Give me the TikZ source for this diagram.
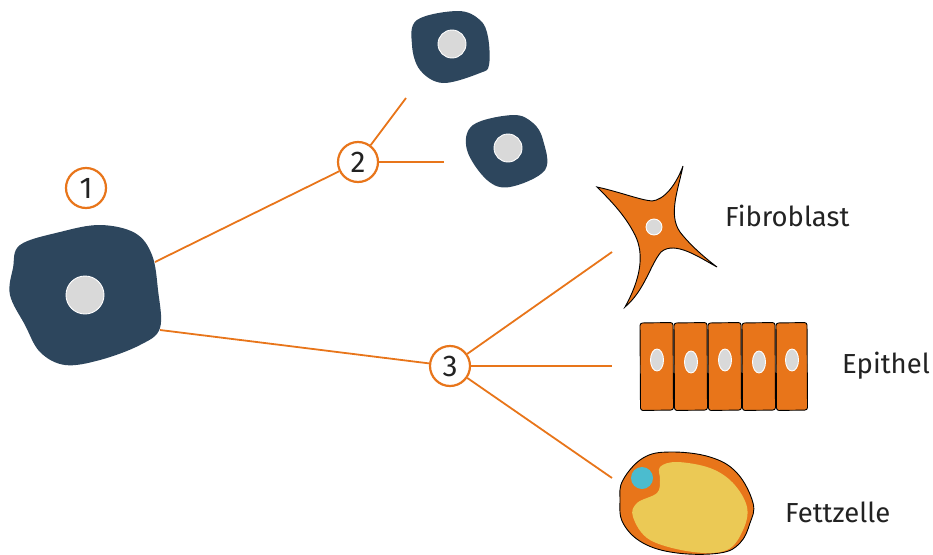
\documentclass[tikz,border=0pt]{standalone}
\usepackage{fontspec}
\setmainfont{Fira Sans}
\usetikzlibrary{calc}
\definecolor{navy}{HTML}{2D465D}
\definecolor{orng}{HTML}{E8751A}
\definecolor{nucgray}{HTML}{D9D9D9}
\definecolor{fatyel}{HTML}{EBC955}
\definecolor{cyanish}{HTML}{4BBCCF}
\definecolor{txt}{HTML}{222222}
\begin{document}
\begin{tikzpicture}[x=1pt,y=-1pt,
  link/.style={draw=orng,line width=1.8pt},
  stage/.style={circle,draw=orng,line width=2.2pt,fill=white,minimum size=40pt,inner sep=0pt,
    font=\fontsize{30}{30}\selectfont,text=txt},
  stemcell/.style={fill=navy},
  nucleus/.style={fill=nucgray,draw=white,line width=0.9pt},
  outline/.style={draw=black,line width=0.9pt,fill=orng},
  label/.style={font=\fontsize{27.5}{27.5}\selectfont,text=txt,anchor=west,inner sep=0pt}]
\useasboundingbox (0,0) rectangle (933,554);

% stem cell
\fill[stemcell] plot[smooth cycle,tension=0.6] coordinates {(20,245) (60,232) (100,225) (135,233) (152,255) (158,290) (160,328) (140,345) (100,360) (65,365) (40,352) (25,325) (10,295) (13,268)};
\node[nucleus,circle,minimum size=38pt,inner sep=0pt] (n1) at (85,295) {};

% daughter stem cells
\fill[stemcell] plot[smooth cycle,tension=0.6] coordinates {(417,20) (458,11) (480,20) (488,37) (489,65) (480,73) (443,83) (420,70) (412,45)};
\node[nucleus,circle,minimum size=28pt,inner sep=0pt] (n2a) at (452,44) {};
\fill[stemcell] plot[smooth cycle,tension=0.6] coordinates {(473,125) (513,115) (533,123) (543,140) (545,170) (510,187) (487,180) (467,150)};
\node[nucleus,circle,minimum size=28pt,inner sep=0pt] (n2b) at (508,148) {};

% stage markers
\node[stage] (s1) at (86,188) {1};
\node[stage] (s2) at (358,162) {2};
\node[stage] (s3) at (450,366) {3};

% connector endpoints
\coordinate (c1a) at (155,262);
\coordinate (c1b) at (160,330);
\coordinate (c2a) at (406,98);
\coordinate (c2b) at (444,162);
\coordinate (c3a) at (612,252);
\coordinate (c3b) at (612,366);
\coordinate (c3c) at (612,478);

\draw[link] (c1a) -- (s2);
\draw[link] (s2) -- (c2a);
\draw[link] (s2) -- (c2b);
\draw[link] (c1b) -- (s3);
\draw[link] (s3) -- (c3a);
\draw[link] (s3) -- (c3b);
\draw[link] (s3) -- (c3c);

% fibroblast
\draw[outline] (597,187) .. controls (620,192) and (640,200) .. (652,201)
  .. controls (664,200) and (676,185) .. (683,166)
  .. controls (678,190) and (668,215) .. (680,232)
  .. controls (690,245) and (705,258) .. (717,267)
  .. controls (700,258) and (675,240) .. (661,252)
  .. controls (650,265) and (645,290) .. (625,307)
  .. controls (640,280) and (645,255) .. (635,235)
  .. controls (625,215) and (610,200) .. cycle;
\node[nucleus,circle,minimum size=16pt,inner sep=0pt] (nf) at (654,227) {};

% epithelium
\foreach \xa/\xb/\ny [count=\i] in {640/673/360,674/707/362,708/741/360,742/775/362,776/807/360}{
  \draw[outline,rounded corners=2.5pt] (\xa,323) -- (\xb,322.5) -- (\xb+0.5,410) -- (\xa+0.5,410.5) -- cycle;
  \fill[nucgray,draw=white,line width=0.9pt] ({(\xa+\xb)/2+0.5},\ny) ellipse [x radius=6.5, y radius=11];
}

% adipocyte
\draw[outline] plot[smooth cycle,tension=0.65] coordinates {(623,480) (643,458) (670,452) (710,457) (737,473) (753,503) (750,523) (740,543) (720,553) (677,553) (643,543) (623,523) (620,500)};
\fill[fatyel] plot[smooth cycle,tension=0.6] coordinates {(660,467) (677,462) (710,468) (733,483) (747,507) (743,530) (727,550) (693,552) (650,540) (633,517) (637,503) (657,493) (660,480)};
\fill[cyanish] (642,478) circle[radius=11];

% labels
\node[label] (lf) at (725,216) {Fibroblast};
\node[label] (le) at (842,366) {Epithel};
\node[label] (lz) at (785,512) {Fettzelle};
\end{tikzpicture}
\end{document}
